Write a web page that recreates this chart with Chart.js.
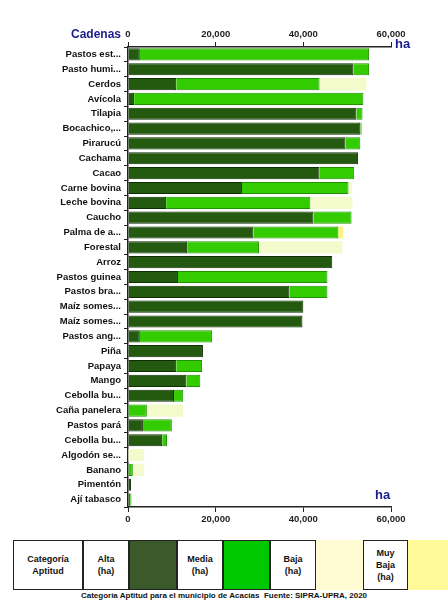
<!DOCTYPE html>
<html>
<head>
<meta charset="utf-8">
<script src="https://cdn.jsdelivr.net/npm/chart.js@4.4.1/dist/chart.umd.min.js"></script>
<style>
  body { margin: 0; background: #fff; font-family: "Liberation Sans", Arial, sans-serif; }
  #wrap { position: relative; width: 448px; height: 604px; }
  #chartBox { position: absolute; left: 0; top: 0; width: 448px; height: 535px; }
  #legend { position: absolute; left: 13px; top: 540px; height: 50px; display: flex; }
  #legend div { box-sizing: border-box; height: 50px; display: flex; align-items: center; justify-content: center;
    text-align: center; font-size: 9px; font-weight: bold; line-height: 12px; color: #111; }
  .txt { border: 1px solid #222; background: #fff; }
  #caption { position: absolute; left: 0; top: 591px; width: 448px; text-align: center; font-size: 8px; font-weight: bold; color: #111; }
</style>
</head>
<body>
<div id="wrap">
  <div id="chartBox"><canvas id="myChart"></canvas></div>
  <div id="legend">
    <div class="txt" style="width:70px">Categoría<br>Aptitud</div>
    <div class="txt" style="width:46px">Alta<br>(ha)</div>
    <div class="txt" style="width:48px;background:#3b5a2b"></div>
    <div class="txt" style="width:46px">Media<br>(ha)</div>
    <div class="txt" style="width:47px;background:#00c800"></div>
    <div class="txt" style="width:46px">Baja<br>(ha)</div>
    <div style="width:47px;background:#fffbd2"></div>
    <div class="txt" style="width:45px">Muy<br>Baja<br>(ha)</div>
    <div style="width:40px;background:#fff99a"></div>
  </div>
  <div id="caption">Categoría Aptitud para el municipio de Acacías&nbsp; Fuente: SIPRA-UPRA, 2020</div>
</div>
<script>
const cadenas = ["Pastos est...", "Pasto humi...", "Cerdos", "Avícola", "Tilapia", "Bocachico,...", "Pirarucú",
  "Cachama", "Cacao", "Carne bovina", "Leche bovina", "Caucho", "Palma de a...", "Forestal", "Arroz",
  "Pastos guinea", "Pastos bra...", "Maíz somes...", "Maíz somes...", "Pastos ang...", "Piña", "Papaya",
  "Mango", "Cebolla bu...", "Caña panelera", "Pastos pará", "Cebolla bu...", "Algodón se...", "Banano",
  "Pimentón", "Ají tabasco"];

const alta = [2700, 51400, 11000, 1400, 52100, 53000, 49600, 52500, 43700, 26000, 8700, 42300, 28600, 13500,
  46600, 11400, 36800, 40000, 39800, 2700, 17100, 11000, 13300, 10500, 0, 3400, 7800, 0, 0, 700, 500];
const media = [52300, 3600, 32700, 52300, 1400, 300, 3400, 0, 7900, 24300, 32900, 8700, 19400, 16400,
  0, 34100, 8700, 0, 0, 16500, 0, 5900, 3200, 2100, 4300, 6600, 1100, 0, 1100, 0, 300];
const baja = [0, 0, 10700, 0, 0, 0, 0, 0, 0, 800, 9600, 0, 0, 19000,
  0, 0, 0, 0, 0, 0, 0, 0, 0, 0, 8300, 0, 0, 3700, 2600, 0, 0];
const muyBaja = [0, 0, 0, 0, 0, 0, 0, 0, 0, 0, 0, 0, 1100, 0,
  0, 0, 0, 0, 0, 0, 0, 0, 0, 0, 0, 0, 0, 0, 0, 0, 0];

const tickFont = { family: "Liberation Sans", size: 9.5, weight: "bold" };

// textos azules "Cadenas" y "ha"
const extraText = {
  id: "extraText",
  afterDraw(chart) {
    const { ctx, chartArea } = chart;
    ctx.save();
    ctx.fillStyle = "#1c1c8a";
    ctx.font = "bold 12px 'Liberation Sans'";
    ctx.textAlign = "right";
    ctx.fillText("Cadenas", chartArea.left - 7, 38);
    ctx.font = "bold 13px 'Liberation Sans'";
    ctx.textAlign = "left";
    ctx.fillText("ha", chartArea.right + 4, 48);
    ctx.fillText("ha", chartArea.right - 16, chartArea.bottom - 8);
    ctx.restore();
  },
};

new Chart(document.getElementById("myChart"), {
  type: "bar",
  data: {
    labels: cadenas,
    datasets: [
      { label: "Alta", data: alta, backgroundColor: "#235a10", borderColor: "#102c05", borderWidth: 1 },
      { label: "Media", data: media, backgroundColor: "#33cc00", borderColor: "#1f9400", borderWidth: 1 },
      { label: "Baja", data: baja, backgroundColor: "#f3fbcc", borderWidth: 0 },
      { label: "Muy Baja", data: muyBaja, backgroundColor: "#fcf47e", borderWidth: 0 },
    ],
  },
  options: {
    indexAxis: "y",
    responsive: true,
    maintainAspectRatio: false,
    animation: false,
    categoryPercentage: 1,
    barPercentage: 0.82,
    layout: { padding: { top: 27, right: 57, bottom: 4, left: 0 } },
    plugins: { legend: { display: false }, tooltip: { enabled: false } },
    scales: {
      x: {
        stacked: true,
        position: "bottom",
        min: 0,
        max: 60000,
        ticks: { stepSize: 20000, font: tickFont, color: "#222", padding: 2 },
        grid: { drawOnChartArea: false, tickLength: 5, color: "#222" },
        border: { color: "#222", width: 1.5 },
        afterFit(scale) { scale.height = 24; },
      },
      x2: {
        type: "linear",
        position: "top",
        min: 0,
        max: 60000,
        ticks: { stepSize: 20000, font: tickFont, color: "#222", padding: 2 },
        grid: { drawOnChartArea: false, tickLength: 5, color: "#222" },
        border: { color: "#222", width: 1.5 },
        afterFit(scale) { scale.height = 20; },
      },
      y: {
        stacked: true,
        ticks: { font: tickFont, color: "#111", padding: 3, autoSkip: false },
        grid: { drawOnChartArea: false, tickLength: 4, color: "#222" },
        border: { color: "#222", width: 1.5 },
        afterFit(scale) { scale.width = 128; },
      },
    },
  },
  plugins: [extraText],
});
</script>
</body>
</html>
